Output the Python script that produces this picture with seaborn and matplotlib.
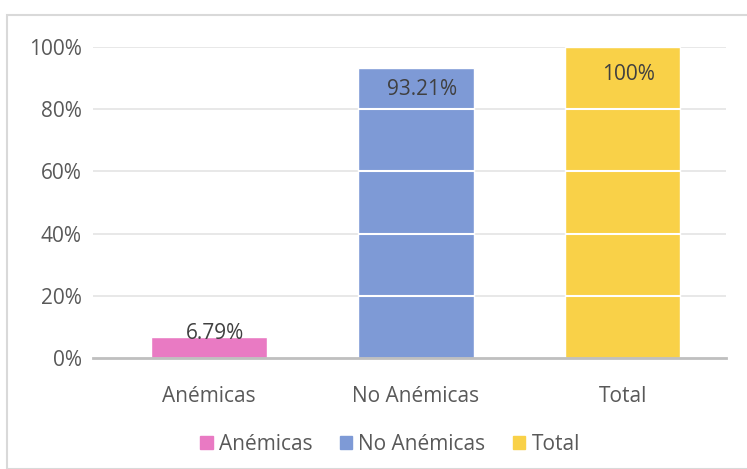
import matplotlib
matplotlib.use("Agg")
import matplotlib.pyplot as plt
import seaborn as sns
import pandas as pd
from matplotlib.patches import Rectangle
from matplotlib.ticker import FuncFormatter

categories = ["Anémicas", "No Anémicas", "Total"]
values = [6.79, 93.21, 100.0]
labels = ["6.79%", "93.21%", "100%"]
colors = ["#E97AC3", "#7E9AD6", "#F9D148"]
yticks = [0, 20, 40, 60, 80, 100]

sns.set_style("white")
plt.rcParams["font.family"] = ["Open Sans", "DejaVu Sans"]

df = pd.DataFrame({"cat": categories, "val": values})

fig = plt.figure(figsize=(7.47, 4.69), dpi=100)
ax = fig.add_axes([93/747, 1-358/469, (726-93)/747, (358-47)/469])

sns.barplot(data=df, x="cat", y="val", hue="cat", palette=colors, dodge=False,
            width=0.56, ax=ax, legend=False, saturation=1, zorder=2)

ax.set_xlim(-0.56, 2.50)
ax.set_ylim(0, 100)
ax.set_yticks(yticks)
ax.yaxis.set_major_formatter(FuncFormatter(lambda v, p: f"{int(v)}%"))
# gray gridlines behind bars, white lines across the bars
for y in yticks[1:]:
    ax.axhline(y, color="#E6E6E6", lw=1.3, zorder=1)
    for p in ax.patches:
        if p.get_height() > y:
            ax.hlines(y, p.get_x(), p.get_x() + p.get_width(), color="white",
                      lw=1.5, zorder=3)
for s in ["top", "right", "left"]:
    ax.spines[s].set_visible(False)
ax.spines["bottom"].set_color("#BFBFBF")
ax.spines["bottom"].set_linewidth(2)
ax.spines["bottom"].set_zorder(4)
ax.tick_params(axis="both", length=0, labelsize=15, labelcolor="#595959")
ax.tick_params(axis="x", pad=20)
ax.tick_params(axis="y", pad=8)
ax.set_xlabel("")
ax.set_ylabel("")

# data labels
offsets = [1.2, -7.0, -9.0]
for i, (v, lab, off) in enumerate(zip(values, labels, offsets)):
    ax.text(i + 0.03, v + off, lab, ha="center", va="center", fontsize=15,
            color="#404040", zorder=5)

# legend
handles = [Rectangle((0, 0), 1, 1, color=c) for c in colors]
fig.legend(handles, categories, loc="center", bbox_to_anchor=(390/747, 1-444/469),
           ncol=3, frameon=False, fontsize=15, handlelength=0.6, handleheight=0.6,
           handletextpad=0.3, columnspacing=1.3, labelcolor="#595959")

# chart border
fig.patches.append(Rectangle((7/747, 0), 1, 1-15/469, transform=fig.transFigure,
                             fill=False, edgecolor="#D9D9D9", lw=1.5))

fig.savefig("out.png", dpi=100)
